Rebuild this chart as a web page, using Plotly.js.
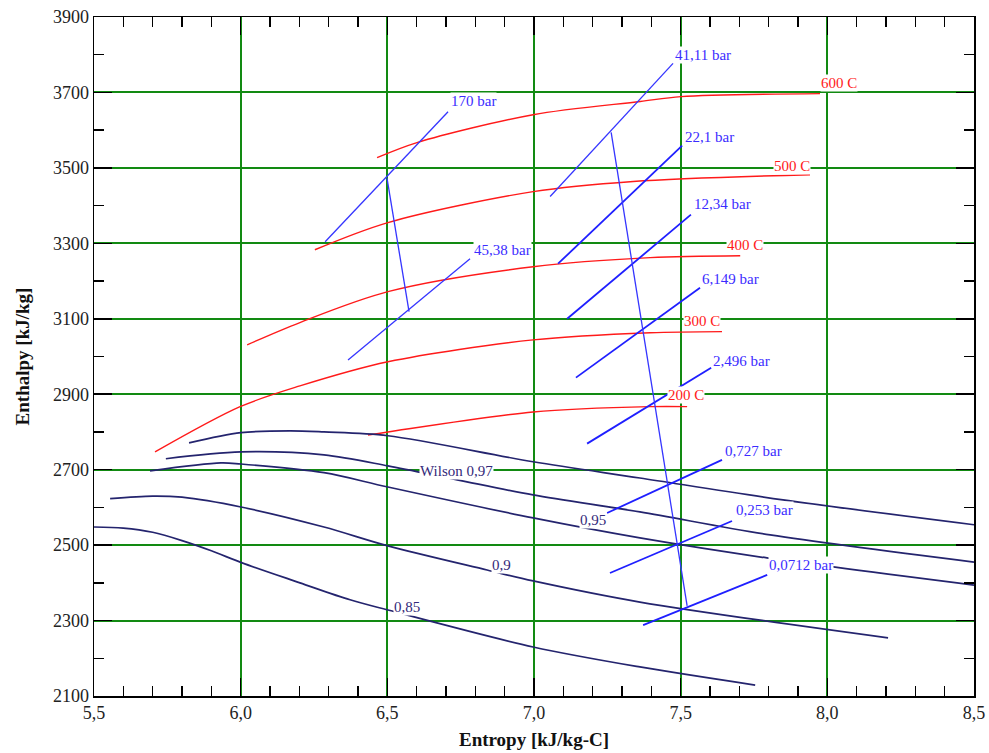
<!DOCTYPE html>
<html><head><meta charset="utf-8">
<script src="https://cdn.plot.ly/plotly-3.0.1.min.js"></script>
<style>html,body{margin:0;padding:0;background:#fff}#chart{width:989px;height:753px}</style>
</head><body><div id="chart"></div>
<script>
// ---- Isotherms (entropy s, enthalpy h) ----
const t600_s = [6.465, 6.601, 6.997, 7.362, 7.501, 7.975];
const t600_h = [3527, 3567, 3641, 3676, 3689, 3697];
const t500_s = [6.253, 6.502, 6.997, 7.338, 7.941];
const t500_h = [3283, 3355, 3437, 3464, 3482];
const t400_s = [6.022, 6.202, 6.502, 6.997, 7.396, 7.703];
const t400_h = [3031, 3090, 3172, 3238, 3262, 3267];
const t300_s = [5.708, 5.998, 6.202, 6.502, 6.997, 7.396, 7.641];
const t300_h = [2747, 2867, 2922, 2986, 3044, 3063, 3066];
const t200_s = [6.434, 6.502, 6.997, 7.396, 7.522];
const t200_h = [2792, 2800, 2853, 2867, 2867];

// ---- Quality / Wilson lines ----
const q100_s = [5.824, 6.001, 6.168, 6.284, 6.502, 6.997, 7.361, 7.849, 8.5];
const q100_h = [2771, 2798, 2803, 2800, 2790, 2721, 2678, 2620, 2554];
const q097_s = [5.745, 6.001, 6.284, 6.502, 6.738, 6.997, 7.361, 7.805, 8.5];
const q097_h = [2729, 2747, 2739, 2710, 2673, 2633, 2588, 2527, 2455];
const q095_s = [5.691, 5.933, 6.001, 6.284, 6.502, 6.997, 7.361, 7.794, 8.5];
const q095_h = [2697, 2718, 2715, 2692, 2654, 2572, 2519, 2466, 2394];
const q090_s = [5.555, 5.700, 5.800, 6.001, 6.284, 6.502, 6.840, 6.997, 7.361, 8.207];
const q090_h = [2623, 2630, 2627, 2601, 2548, 2498, 2434, 2405, 2349, 2254];
const q085_s = [5.5, 5.6, 5.7, 5.8, 5.9, 6.005, 6.202, 6.373, 6.502, 6.997, 7.361, 7.754];
const q085_h = [2548, 2545, 2534, 2512, 2485, 2453, 2400, 2355, 2328, 2230, 2177, 2129];

// ---- Isobars ----
const p170_s = [6.288, 6.707];   const p170_h = [3304, 3649];
const p4538_s = [6.366, 6.782];  const p4538_h = [2991, 3259];
const p4111_s = [7.055, 7.474];  const p4111_h = [3424, 3777];
const p221_s = [7.082, 7.505];   const p221_h = [3246, 3559];
const p1234_s = [7.113, 7.535];  const p1234_h = [3100, 3376];
const p6149_s = [7.143, 7.566];  const p6149_h = [2944, 3182];
const p2496_s = [7.181, 7.604];  const p2496_h = [2769, 2970];
const p0727_s = [7.249, 7.641];  const p0727_h = [2585, 2726];
const p0253_s = [7.259, 7.675];  const p0253_h = [2426, 2564];
const p00712_s = [7.372, 7.795]; const p00712_h = [2288, 2421];

// ---- Expansion lines ----
const exp1_s = [6.499, 6.574]; const exp1_h = [3472, 3119];
const exp2_s = [7.263, 7.522]; const exp2_h = [3594, 2339];

// ---- Labels ----
const barLabels = ['170 bar', '45,38 bar', '41,11 bar', '22,1 bar', '12,34 bar', '6,149 bar', '2,496 bar', '0,727 bar', '0,253 bar', '0,0712 bar'];
const barLabel_s = [6.714, 6.792, 7.477, 7.511, 7.542, 7.569, 7.607, 7.648, 7.685, 7.798];
const barLabel_h = [3678, 3283, 3800, 3583, 3403, 3206, 2989, 2750, 2593, 2448];
const tLabels = ['600 C', '500 C', '400 C', '300 C', '200 C'];
const tLabel_s = [7.975, 7.815, 7.655, 7.508, 7.453];
const tLabel_h = [3726, 3506, 3296, 3095, 2898];
const qLabels = ['Wilson 0,97', '0,95', '0,9', '0,85'];
const qLabel_s = [6.608, 7.153, 6.853, 6.519];
const qLabel_h = [2697, 2567, 2447, 2336];

const xTicks = [5.5, 6.0, 6.5, 7.0, 7.5, 8.0, 8.5];
const xTickText = ['5,5', '6,0', '6,5', '7,0', '7,5', '8,0', '8,5'];
const yTicks = [2100, 2300, 2500, 2700, 2900, 3100, 3300, 3500, 3700, 3900];

const SERIF = 'Liberation Serif';
const RED = '#ff1a1a', BLUE = '#1f1fff', NAVY = '#24246e';
const traces = [];
function add(x, y, color, width, spline) {
  traces.push({x: x, y: y, type: 'scatter', mode: 'lines', hoverinfo: 'skip',
    line: {color: color, width: width, shape: spline ? 'spline' : 'linear', smoothing: 0.9}});
}
[[t600_s,t600_h],[t500_s,t500_h],[t400_s,t400_h],[t300_s,t300_h],[t200_s,t200_h]].forEach(p => add(p[0], p[1], RED, 1.4, true));
[[q100_s,q100_h],[q097_s,q097_h],[q095_s,q095_h],[q090_s,q090_h],[q085_s,q085_h]].forEach(p => add(p[0], p[1], NAVY, 1.7, true));
[[p170_s,p170_h],[p4538_s,p4538_h],[p4111_s,p4111_h]].forEach(p => add(p[0], p[1], '#3535ff', 1.3, false));
[[p221_s,p221_h],[p1234_s,p1234_h],[p6149_s,p6149_h],[p2496_s,p2496_h],[p0727_s,p0727_h],[p0253_s,p0253_h],[p00712_s,p00712_h]].forEach(p => add(p[0], p[1], BLUE, 1.8, false));
[[exp1_s,exp1_h],[exp2_s,exp2_h]].forEach(p => add(p[0], p[1], '#3535ff', 1.3, false));

const annotations = [];
function lab(texts, xs, ys, color) {
  texts.forEach((t, i) => annotations.push({x: xs[i], y: ys[i], xref: 'x', yref: 'y', text: t,
    showarrow: false, xanchor: 'left', yanchor: 'middle', bgcolor: '#ffffff', borderpad: 0,
    font: {family: SERIF, size: 15, color: color}}));
}
lab(barLabels, barLabel_s, barLabel_h, '#3b2cff');
lab(tLabels, tLabel_s, tLabel_h, '#ff1a1a');
lab(qLabels, qLabel_s, qLabel_h, '#33297a');

const axisCommon = {
  showline: true, linecolor: '#000', linewidth: 1.5, mirror: 'ticks',
  ticks: 'inside', ticklen: 18, tickwidth: 1.5, tickcolor: '#000',
  showgrid: true, gridcolor: '#128a12', gridwidth: 2, zeroline: false,
  tickfont: {family: SERIF, size: 18, color: '#222'}
};
const layout = {
  width: 989, height: 753,
  margin: {l: 94, r: 15, t: 17, b: 57},
  paper_bgcolor: '#fff', plot_bgcolor: '#fff',
  showlegend: false,
  xaxis: Object.assign({}, axisCommon, {
    range: [5.5, 8.5], tickmode: 'array', tickvals: xTicks, ticktext: xTickText,
    minor: {dtick: 0.1, ticks: 'inside', ticklen: 10, tickwidth: 1.5, tickcolor: '#000', showgrid: false},
    title: {text: '<b>Entropy [kJ/kg-C]</b>', standoff: 10,
      font: {family: SERIF, size: 19, color: '#111'}}
  }),
  yaxis: Object.assign({}, axisCommon, {
    range: [2100, 3900], tickmode: 'array', tickvals: yTicks,
    minor: {dtick: 100, ticks: 'inside', ticklen: 10, tickwidth: 1.5, tickcolor: '#000', showgrid: false},
    title: {text: '<b>Enthalpy [kJ/kg]</b>', standoff: 18,
      font: {family: SERIF, size: 19, color: '#111'}}
  }),
  annotations: annotations
};
Plotly.newPlot('chart', traces, layout, {staticPlot: true, displayModeBar: false});
</script>
</body></html>
